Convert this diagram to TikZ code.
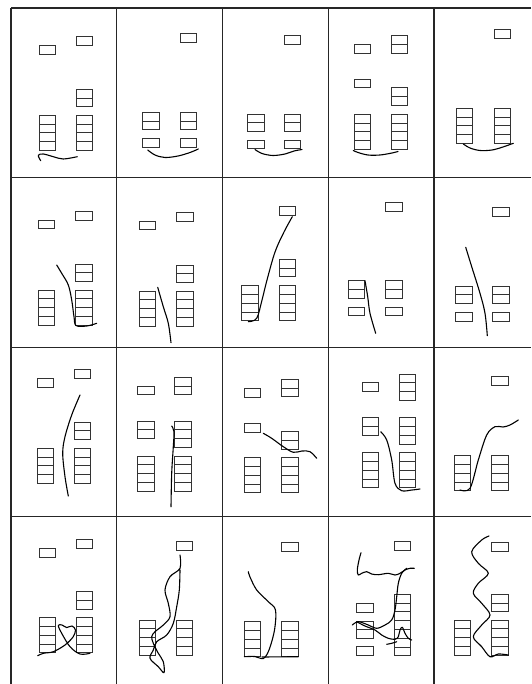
\documentclass[tikz,border=0pt]{standalone}
\begin{document}
\begin{tikzpicture}[x=1pt,y=-1pt,
  gridline/.style={line width=1.3pt,black!85},
  boxline/.style={line width=0.9pt,black!80},
  curve/.style={line width=1.1pt,black,line cap=round,line join=round}]
\useasboundingbox (0,0) rectangle (531,684);
\fill[white] (0,0) rectangle (531,684);
% grid
\foreach \x in {11,116.7,222.5,328.3,434} \draw[gridline] (\x,8) -- (\x,684);
\foreach \y in {8,177.5,347.3,516.7} \draw[gridline] (11,\y) -- (531,\y);
% stacks: x, ytop, n
\foreach \bx/\by/\n in {
 39.3/45.7/1, 76.3/36.7/1, 76.3/89.3/2, 39.3/115.3/4, 76.3/115.3/4,
 180/33.3/1, 142.7/112.3/2, 180/112.3/2, 142.7/138.3/1, 180/138.3/1,
 284.3/35.7/1, 247.7/114/2, 284.3/114/2, 247.7/140/1, 284.3/140/1,
 354/44.3/1, 391/35.7/2, 354/79/1, 391/87.7/2, 354/114.3/4, 391/114.3/4,
 494.3/29.3/1, 456.3/108.3/4, 494.3/108.3/4,
 38.3/220/1, 75.7/211.3/1, 75.7/264/2, 38.3/290/4, 75.7/290/4,
 139.3/221/1, 176.7/212.3/1, 176.7/265/2, 139.3/291/4, 176.7/291/4,
 279.3/206.7/1, 279.3/259.3/2, 241.7/285.7/4, 279.3/285.7/4,
 385.7/202.3/1, 348.3/280.7/2, 385.7/280.7/2, 348.3/307/1, 385.7/307/1,
 492.7/207.7/1, 455.7/286/2, 492.7/286/2, 455.7/312.3/1, 492.7/312.3/1,
 37.3/378.7/1, 74.3/369.3/1, 74.3/422/2, 37.3/448.3/4, 74.3/448.3/4,
 137.7/386/1, 174.7/377.3/2, 137.7/421/2, 174.7/421/3, 137.7/456/4, 174.7/456/4,
 244.3/388.3/1, 281.7/379.3/2, 244.3/423.3/1, 281.7/431.7/2, 244.3/457.7/4, 281.7/457.7/4,
 362.3/382.7/1, 399.3/374/3, 362.3/417.7/2, 399.3/417.7/3, 362.3/452.7/4, 399.3/452.7/4,
 491.7/376.7/1, 454.3/455.7/4, 491.7/455.7/4,
 39/548.3/1, 76.3/539.3/1, 76.3/591.7/2, 39/617.7/4, 76.3/617.7/4,
 176/541.7/1, 139/620/4, 176/620/4,
 281.7/542.3/1, 244.3/621.7/4, 281.7/621.7/4,
 394/541.7/1, 356.7/603.3/1, 356.7/621/2, 356.7/646.7/1, 394/594.3/7,
 491.7/542.3/1, 491.7/594.3/2, 454.3/620/4, 491.7/620/4}{
  \draw[boxline] (\bx,\by) rectangle ++(16.5,8.8*\n);
  \ifnum\n>1
    \foreach \k in {2,...,\n} \draw[boxline] (\bx,\by+8.8*\k-8.8) -- ++(16.5,0);
  \fi
}
% curves
\tikzset{sm/.style={smooth,tension=0.55}}
\draw[curve] plot[sm] coordinates {(40.7,160.7) (38.3,155.3) (43.3,154) (53.3,156.7) (63.3,159) (77.3,156.7)};
\draw[curve] plot[sm] coordinates {(147.7,150) (155,155) (165,157.5) (178,156) (190,152.5) (198.3,149)};
\draw[curve] plot[sm] coordinates {(255,149.5) (262,153.5) (273,155.5) (285,154) (294,151) (302,149.5)};
\draw[curve] plot[sm] coordinates {(353.3,150.5) (358,152.5) (368,155) (380,155) (392,153) (398,151.5)};
\draw[curve] plot[sm] coordinates {(463.3,144) (470,148) (480,150.5) (492,150) (503,147) (513.3,143.3)};
\draw[curve] plot[sm] coordinates {(56.7,265) (61.7,273.3) (68.3,285) (71.7,300) (74,316.7) (76,325.5) (86.7,326) (96.7,323.3)};
\draw[curve] plot[sm] coordinates {(157.7,287.3) (163.3,306.7) (168.3,323.3) (171,342.7)};
\draw[curve] plot[sm] coordinates {(248.3,321.7) (256.7,318.3) (262,300) (267,280) (275,252) (284,232) (292.3,216.7)};
\draw[curve] plot[sm] coordinates {(365,280.7) (367.7,296.7) (370,313.3) (375.7,333.3)};
\draw[curve] plot[sm] coordinates {(465.7,247.3) (471.7,266.7) (480,293.3) (485,313.3) (487.3,335.7)};
\draw[curve] plot[sm] coordinates {(80,395) (71.7,415) (65,436.7) (62.7,453.3) (65,476.7) (68.3,496)};
\draw[curve] plot[sm] coordinates {(171.7,426) (174,431.7) (173.3,446.7) (171.7,473.3) (171,506.7)};
\draw[curve] plot[sm] coordinates {(263.3,433.3) (271.7,438.3) (283.3,446.7) (293.3,452.3) (302,451) (310,451.7) (316.7,458.3)};
\draw[curve] plot[sm] coordinates {(380.7,431.7) (386.7,440) (391.7,460) (395,483.3) (401.7,490.7) (412,490) (420,489)};
\draw[curve] plot[sm] coordinates {(460,490) (470,488.3) (478.3,460) (486.7,435) (495,426.7) (503,427) (510,425) (518.3,420)};
\draw[curve] plot[sm] coordinates {(37.7,655.7) (43.3,653.3) (53.3,651.7) (65,645) (73,637) (75.5,630) (72,626) (66.7,627.5) (62,625) (58.3,625.5) (61.7,633.3) (70,646.7) (80,654) (90,653.3)};
\draw[curve] plot[sm] coordinates {(180,555) (180,568.3) (170,576.7) (165,590) (168.3,603.3) (170,616.7) (163.3,625) (155,631.7) (151.7,636.7) (153.3,643.3) (158.3,653.3) (163.3,661.7) (164,672.7) (158.3,666.7) (150,658.3) (153.3,650) (156.7,641.7) (166.7,635) (173.3,623.3) (176.7,606.7) (179.3,590) (180,570)};
\draw[curve] plot[sm] coordinates {(248.3,571.7) (250,577) (256.7,590) (268.3,601.7) (275.5,610) (274.5,630) (269,650) (263.3,658.5) (255,656.5) (244.3,656.7)};
\draw[curve] (262,657) -- (298.3,656.7);
\draw[curve] plot[sm] coordinates {(361,552.7) (359,560) (357.3,570) (358.3,575) (361.7,573.3) (366.7,571.7) (371.7,574) (378.3,574.7) (388.3,573.3) (395,575) (400,573.3) (405,570) (410,568.3) (414.3,568.3)};
\draw[curve] plot[sm] coordinates {(406.7,568.3) (401.7,573.3) (398.3,583.3) (396.7,596.7) (395,610) (391.7,620) (385,625) (376.7,628.3) (368.3,625) (358.3,621.7) (352.3,625)};
\draw[curve] plot[sm] coordinates {(356.7,621.7) (365,626) (375,630) (381.7,635) (388.3,638.3) (395,639.3) (398.3,636.7) (400,630) (402.3,627.3) (405,633.3) (408.3,638.3) (411.7,640)};
\draw[curve] plot[sm] coordinates {(386.7,644.3) (391.7,643.3) (396.7,641.7)};
\draw[curve] plot[sm] coordinates {(489,536) (481.7,540) (471.7,551.7) (478.3,563.3) (488.3,573.3) (478.3,583.3) (473.3,593.3) (481.7,603.3) (490,615) (481.7,625) (473.3,636.7) (481.7,646.7) (490,656.7) (498.3,654) (508.3,655)};
\end{tikzpicture}
\end{document}
